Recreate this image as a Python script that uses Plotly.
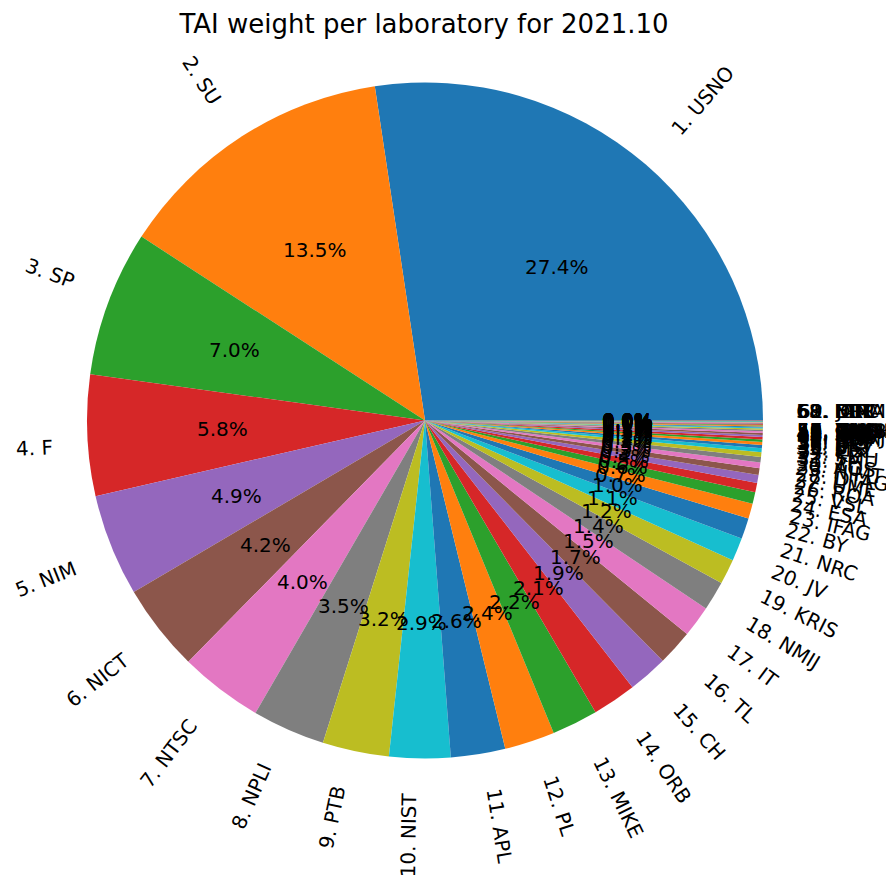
import math
import plotly.graph_objects as go

labs = ["USNO", "SU", "SP", "F", "NIM", "NICT", "NTSC", "NPLI", "PTB", "NIST",
        "APL", "PL", "MIKE", "ORB", "CH", "TL", "IT", "NMIJ", "KRIS", "JV",
        "NRC", "BY", "IFAG", "ESA", "VSL", "ROA", "UME", "DTAG", "NIMT", "AOS",
        "TP", "SMU", "KZ", "LT", "MSL", "SIQ", "BEV", "IPQ", "NIS", "CNM",
        "INTI", "ONRJ", "HKO", "UA", "SCL", "BIM", "KIM", "CAO", "NAO", "GUM",
        "MKEH", "NIMB", "DMDM", "INXE", "SMD", "VMI", "ZA", "IGNA", "DLR", "BIRM",
        "EIM", "JATC", "NRL"]
weights = [27.37, 13.47, 6.97, 5.78, 4.88, 4.18, 3.98, 3.48, 3.18, 2.92,
           2.6, 2.4, 2.2, 2.1, 1.9, 1.7, 1.5, 1.4, 1.2, 1.1,
           1.0, 0.72, 0.55, 0.45, 0.38, 0.32, 0.28, 0.26, 0.22, 0.19,
           0.16, 0.14, 0.12, 0.11, 0.1, 0.09, 0.08, 0.07, 0.06, 0.05,
           0.05, 0.04, 0.04, 0.03, 0.03, 0.02, 0.02, 0.02, 0.015, 0.015,
           0.01, 0.01, 0.01, 0.005, 0.005, 0.005, 0.005, 0.0, 0.0, 0.0,
           0.0, 0.0, 0.0]
labels = [f"{i+1}. {n}" for i, n in enumerate(labs)]
title = "TAI weight per laboratory for 2021.10"

colors10 = ["#1f77b4", "#ff7f0e", "#2ca02c", "#d62728", "#9467bd",
            "#8c564b", "#e377c2", "#7f7f7f", "#bcbd22", "#17becf"]
colors = [colors10[i % 10] for i in range(len(weights))]

W, H = 886, 887
CX, CY = 425.0, 420.5        # pixel centre (from top)
R = 338.0
FS = 20
LH = 19.5                    # text box height used for alignment

total = sum(weights)
rot0 = 90 - 360 * weights[0] / total

fig = go.Figure(go.Pie(
    labels=labels, values=weights, sort=False, direction="counterclockwise",
    rotation=rot0, marker=dict(colors=colors, line=dict(width=0)),
    textinfo="none", hoverinfo="label+percent", showlegend=False,
    domain=dict(x=[(CX - R) / W, (CX + R) / W],
                y=[(H - CY - R) / H, (H - CY + R) / H]),
))

cw = {".": 0.318, " ": 0.318, "%": 0.95, "I": 0.295, "J": 0.295, "L": 0.557,
      "T": 0.611, "F": 0.575, "M": 0.863, "W": 0.989, "N": 0.748, "O": 0.787,
      "S": 0.635, "U": 0.732, "P": 0.603, "K": 0.656, "C": 0.698, "R": 0.695,
      "A": 0.684, "B": 0.686, "H": 0.752, "G": 0.775, "E": 0.632, "D": 0.77,
      "V": 0.684, "Y": 0.611, "Z": 0.685, "Q": 0.787, "X": 0.685}


def tw(s):
    return sum(cw.get(c, 0.636) for c in s) * FS


ann = []
cum = 0.0
for lab, w in zip(labels, weights):
    th = 2 * math.pi * (cum + w / 2) / total
    cum += w
    c, s = math.cos(th), math.sin(th)
    xt, yt = 1.1 * R * c, 1.1 * R * s
    # zero-weight slices sitting at the very end land just past 360 deg
    upper = yt > 0 or (w == 0 and cum >= total - 1e-9)
    rot = math.degrees(th) + (0 if xt > 0 else 180)
    phi = math.radians(rot)
    tww = tw(lab)
    bw = tww * abs(math.cos(phi)) + LH * abs(math.sin(phi))
    bh = tww * abs(math.sin(phi)) + LH * abs(math.cos(phi))
    mx = xt + (bw / 2 if xt > 0 else -bw / 2)
    my = (yt if not upper else abs(yt)) + (bh / 2 if upper else -bh / 2)
    px, py = CX + mx, CY - my
    ann.append(dict(x=px / W, y=1 - py / H, xref="paper", yref="paper",
                    text=lab, showarrow=False, textangle=-rot,
                    xanchor="center", yanchor="middle",
                    font=dict(size=FS, color="black", family="DejaVu Sans")))
    pct = f"{100 * w / total:.1f}%"
    px, py = CX + 0.6 * R * c, CY - 0.6 * R * s
    ann.append(dict(x=px / W, y=1 - py / H, xref="paper", yref="paper",
                    text=pct, showarrow=False,
                    xanchor="center", yanchor="middle",
                    font=dict(size=FS, color="black", family="DejaVu Sans")))

fig.update_layout(
    width=W, height=H, margin=dict(l=0, r=0, t=0, b=0),
    paper_bgcolor="white", plot_bgcolor="white",
    font=dict(family="DejaVu Sans", color="black"),
    title=dict(text=title, x=424 / W, xanchor="center", y=1 - 24 / H,
               yanchor="middle", yref="container",
               font=dict(size=26, color="black", family="DejaVu Sans")),
    annotations=ann,
)
fig.write_html("out.html", config={"displayModeBar": False},
               post_script="document.body.style.margin='0';")
